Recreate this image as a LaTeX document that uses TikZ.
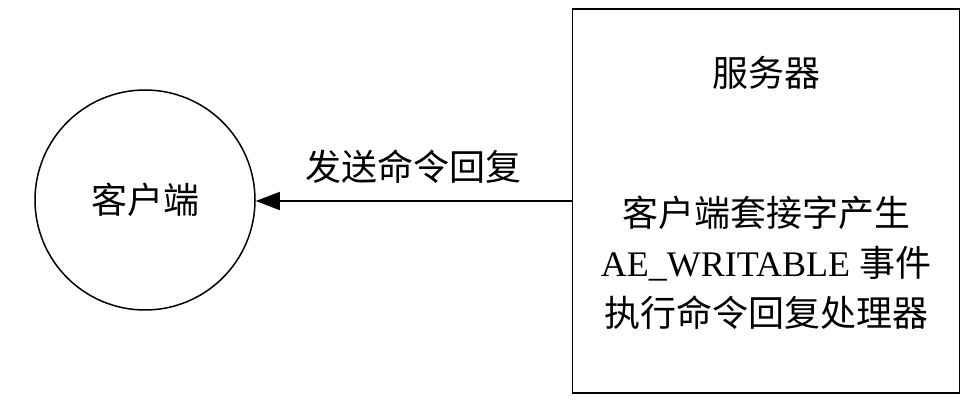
\documentclass[tikz,border=0pt]{standalone}
\usepackage{fontspec}
\setmainfont{Liberation Serif}
\newfontfamily\cjk{Noto Sans CJK SC}
\usetikzlibrary{positioning,calc,arrows.meta}

\begin{document}
\begin{tikzpicture}[x=0.5pt, y=-0.5pt, every node/.style={font=\fontsize{18}{25}\selectfont}, line width=0.75pt]

    \useasboundingbox (0,0) rectangle (980,406);

    \node[circle,draw,minimum size=110pt,inner sep=0pt] (client) at (145,200) {\cjk 客户端};
    \node[rectangle,draw,minimum width=193.5pt,minimum height=192pt,inner sep=0pt] (server) at (766,201) {};

    \node[] (title) at (766,73) {\cjk 服务器};
    \node[align=center] (event) at (766,263) {{\cjk 客户端套接字产生}\\AE\_WRITABLE {\cjk 事件}\\{\cjk 执行命令回复处理器}};

    \draw[-{Triangle[length=12pt,width=9pt]}] (server.west) -- (client.east |- server.west) node[midway,above=5pt] {\cjk 发送命令回复};

\end{tikzpicture}
\end{document}
